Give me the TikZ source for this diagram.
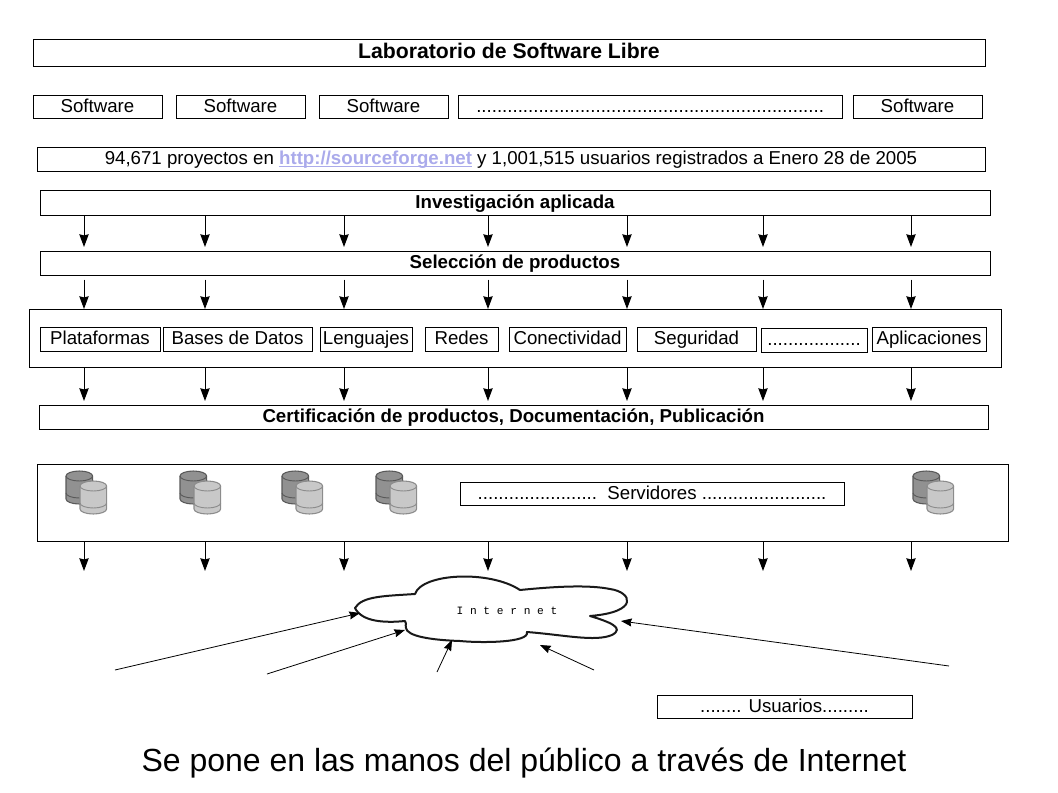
\documentclass[tikz,border=0pt]{standalone}
\usepackage{fontspec}
\setmainfont{Liberation Sans}
\newfontfamily\cloudfont{Liberation Mono}
\usetikzlibrary{arrows.meta,calc}
\definecolor{linkc}{RGB}{170,170,235}
\definecolor{cyldark}{RGB}{145,145,145}
\definecolor{cyllight}{RGB}{200,200,200}
\tikzset{
  x=0.75pt,y=-0.75pt,
  bx/.style={draw=black,line width=0.7pt,inner sep=0pt,outer sep=0pt,text height=11pt,text depth=2.4pt,font=\fontsize{14pt}{16pt}\selectfont,align=center},
  bxb/.style={bx,font=\fontsize{14pt}{16pt}\selectfont\bfseries},
  arr/.style={draw=black,line width=0.75pt,-{Stealth[length=9.5pt,width=7pt,inset=0.8pt]}},
  thin arr/.style={arr,line width=0.6pt,-{Stealth[length=8pt,width=6pt,inset=0.8pt]}},
}
\newcommand{\bxn}[7][bx]{%
  \node[#1,minimum width={(#5-#3)*0.75pt},minimum height={(#6-#4)*0.75pt}] (#2) at ({(#3+#5)/2},{(#4+#6)/2}) {#7};}
\newcommand{\cyl}[4]{% x y fill line
  \draw[fill=#3,draw=#4,line width=0.8pt] (#1,#2+5) -- (#1,#2+28) arc[start angle=180,end angle=0,x radius=13.3,y radius=5] -- (#1+26.6,#2+5) arc[start angle=0,end angle=-180,x radius=13.3,y radius=5] -- cycle;
  \draw[draw=#4,line width=0.7pt] (#1,#2+5) arc[start angle=180,end angle=0,x radius=13.3,y radius=5];
  \draw[draw=#4,line width=0.7pt] (#1,#2+22) arc[start angle=180,end angle=0,x radius=13.3,y radius=5];
}
\newcommand{\dbpair}[1]{\cyl{#1}{471}{cyldark}{black!65}\cyl{#1+14}{481}{cyllight}{black!45}}
\begin{document}
\begin{tikzpicture}
\useasboundingbox (0,0) rectangle (1058,793);
\bxn[bxb,font=\fontsize{15.9pt}{18pt}\selectfont\bfseries]{lab}{33}{39}{985}{66}{Laboratorio de Software Libre}
\bxn{s1}{33}{95}{162}{118}{Software}
\bxn{s2}{176}{95}{305}{118}{Software}
\bxn{s3}{319}{95}{448}{118}{Software}
\bxn{sd}{458}{95}{842}{118}{...................................................................}
\bxn{s4}{853}{95}{982}{118}{Software}
\bxn{proy}{37}{147}{985}{171}{94,671 proyectos en \textcolor{linkc}{\bfseries\underline{\smash{http://sourceforge.net}}} y 1,001,515 usuarios registrados a Enero 28 de 2005}
\bxn[bxb]{inv}{40}{190}{990}{215}{Investigación aplicada}
\bxn[bxb]{sel}{40}{251}{990}{275}{Selección de productos}
\bxn{panel}{29}{309}{1001}{367}{}
\bxn{p1}{40}{327}{160}{351}{Plataformas}
\bxn{p2}{163}{327}{312}{351}{Bases de Datos}
\bxn{p3}{320}{327}{412}{351}{Lenguajes}
\bxn{p4}{425}{327}{498}{351}{Redes}
\bxn{p5}{509}{327}{626}{351}{Conectividad}
\bxn{p6}{637}{327}{756}{351}{Seguridad}
\bxn{p7}{761}{328}{867}{352}{..................}
\bxn{p8}{872}{327}{986}{351}{Aplicaciones}
\bxn[bxb]{cert}{39}{405}{988}{429}{Certificación de productos, Documentación, Publicación}
\bxn{serv}{37}{464}{1008}{541}{}
\bxn{servtxt}{460}{482}{844}{505}{.......................\ \ Servidores ........................}
\foreach \px in {66,180,282,376,913} {\dbpair{\px}}
% columns
\foreach \i/\cx in {1/84,2/205,3/344,4/488,5/627,6/763,7/911} {
  \coordinate (c\i) at (\cx,0);
  \coordinate (e\i) at (\cx,571);
  \draw[arr,shorten <=1pt,shorten >=3pt] (inv.south -| c\i) -- (sel.north -| c\i);
  \draw[arr,shorten <=3.5pt] (sel.south -| c\i) -- (panel.north -| c\i);
  \draw[arr,shorten <=1pt,shorten >=3pt] (panel.south -| c\i) -- (cert.north -| c\i);
  \draw[arr,shorten <=0.5pt] (serv.south -| c\i) -- (e\i);
}
% cloud
\draw[line width=1.5pt,fill=white,draw=black!90,line join=round]
 (355,608) .. controls (362,596) and (385,596) .. (415,594)
 .. controls (422,573) and (490,570) .. (520,590)
 .. controls (560,586) and (590,585) .. (610,589)
 .. controls (632,592) and (640,612) .. (590,616)
 .. controls (610,622) and (625,628) .. (612,635)
 .. controls (595,642) and (565,635) .. (527,632)
 .. controls (530,643) and (480,643) .. (460,641)
 .. controls (430,640) and (407,636) .. (406,628)
 .. controls (405,624) and (407,622) .. (405,621)
 .. controls (385,623) and (362,622) .. (355,608) -- cycle;
\node[inner sep=0pt,font=\cloudfont\fontsize{8.4pt}{9pt}\selectfont] (cloudtxt) at (507,611) {I n t e r n e t};
\coordinate (u1) at (115,670); \coordinate (t1) at (360,613);
\coordinate (u2) at (267,674); \coordinate (t2) at (405,630);
\coordinate (u3) at (437,672); \coordinate (t3) at (452,640);
\coordinate (u4) at (594,670); \coordinate (t4) at (540,645);
\coordinate (u5) at (949,666); \coordinate (t5) at (621,621);
\foreach \i in {1,...,5} {\draw[thin arr] (u\i) -- (t\i);}
\bxn{usu}{657}{695}{912}{718}{........ Usuarios.........}
\node[inner sep=0pt,font=\fontsize{24pt}{28pt}\selectfont] (cap) at (524,763) {Se pone en las manos del público a través de Internet};
\end{tikzpicture}
\end{document}
